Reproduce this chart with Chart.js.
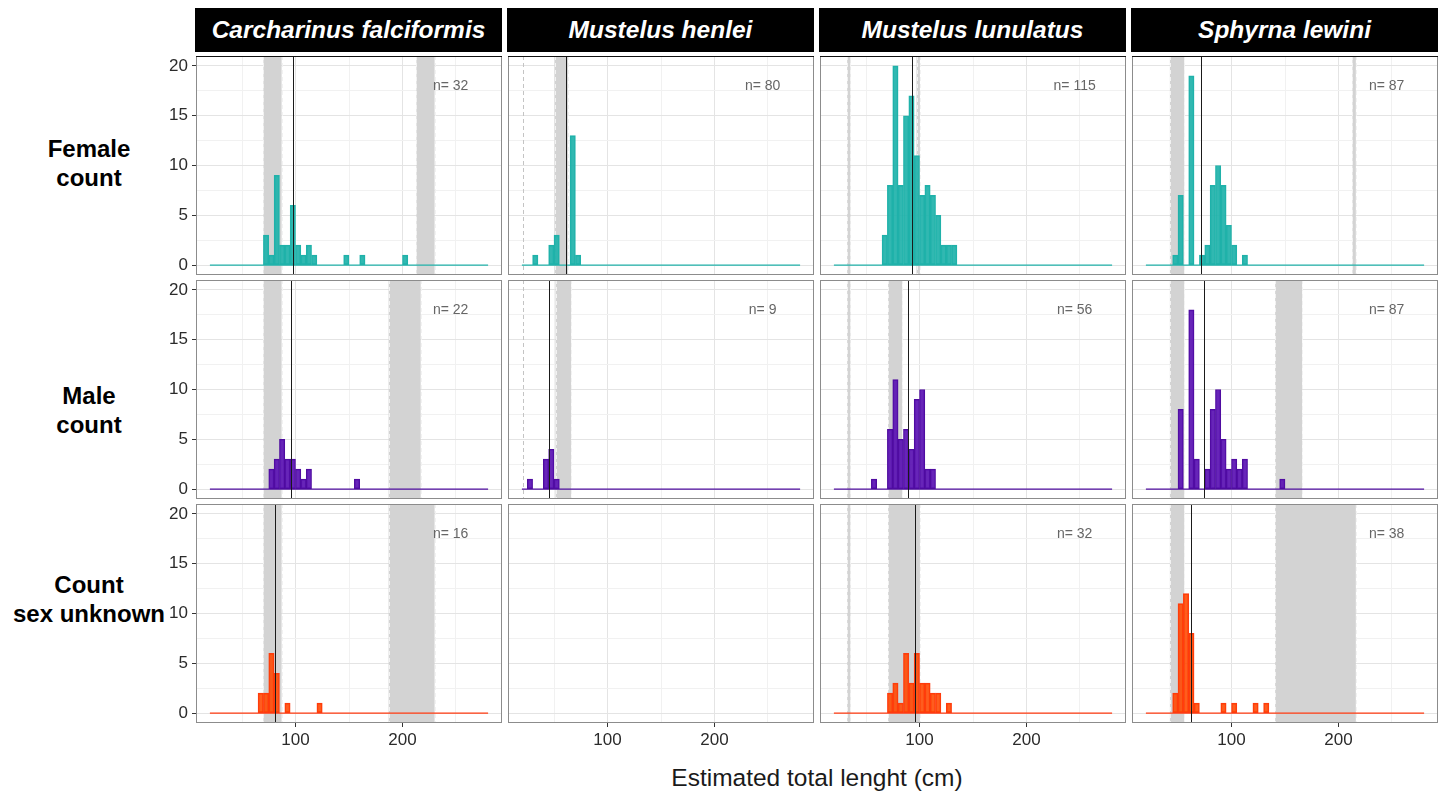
<!DOCTYPE html>
<html><head><meta charset="utf-8">
<script src="https://cdn.jsdelivr.net/npm/chart.js@4.4.1/dist/chart.umd.min.js"></script>
<style>
html,body{margin:0;padding:0;background:#fff;}
body{width:1446px;height:795px;position:relative;overflow:hidden;font-family:'Liberation Sans',Arial,sans-serif;}
.strip{position:absolute;top:8px;height:44px;background:#000;color:#fff;font-weight:bold;font-style:italic;font-size:24.5px;display:flex;align-items:center;justify-content:center;white-space:nowrap;}
.rowlab{position:absolute;left:0;width:178px;text-align:center;font-weight:bold;font-size:24px;line-height:29px;color:#000;}
canvas{position:absolute;}
.xtitle{position:absolute;top:764px;left:196px;width:1242px;text-align:center;font-size:24.5px;line-height:28px;color:#1a1a1a;}
</style></head><body>
<script>
// ---------------- DATA ----------------
const species = ["Carcharinus falciformis", "Mustelus henlei", "Mustelus lunulatus", "Sphyrna lewini"];
const rowLabels = [["Female", "count"], ["Male", "count"], ["Count", "sex unknown"]];
const xTitle = "Estimated total lenght (cm)";
const xTickLabels = [100, 200];
const yTickLabels = [0, 5, 10, 15, 20];
const binWidth = 5;
const binRangeStart = 20;
const binRangeEnd = 280;

// lower edges of non-empty bins and their counts
const cfFemaleBins   = [70, 75, 80, 85, 90, 95, 100, 105, 110, 115, 145, 160, 200];
const cfFemaleCounts = [3, 1, 9, 2, 2, 6, 2, 1, 2, 1, 1, 1, 1];
const mhFemaleBins   = [30, 45, 50, 65, 70];
const mhFemaleCounts = [1, 2, 3, 13, 1];
const mlFemaleBins   = [65, 70, 75, 80, 85, 90, 95, 100, 105, 110, 115, 120, 125, 130];
const mlFemaleCounts = [3, 8, 20, 8, 15, 17, 11, 7, 8, 7, 5, 2, 2, 2];
const slFemaleBins   = [45, 50, 60, 70, 75, 80, 85, 90, 95, 100, 110];
const slFemaleCounts = [1, 7, 19, 1, 2, 8, 10, 8, 4, 2, 1];

const cfMaleBins   = [75, 80, 85, 90, 95, 100, 105, 110, 155];
const cfMaleCounts = [2, 3, 5, 3, 3, 2, 1, 2, 1];
const mhMaleBins   = [25, 40, 45, 50];
const mhMaleCounts = [1, 3, 4, 1];
const mlMaleBins   = [55, 70, 75, 80, 85, 90, 95, 100, 105, 110];
const mlMaleCounts = [1, 6, 11, 5, 6, 4, 9, 10, 2, 2];
const slMaleBins   = [50, 60, 65, 75, 80, 85, 90, 95, 100, 105, 110, 145];
const slMaleCounts = [8, 18, 3, 2, 8, 10, 5, 2, 3, 2, 3, 1];

const cfUnknownBins   = [65, 70, 75, 80, 90, 120];
const cfUnknownCounts = [2, 2, 6, 4, 1, 1];
const mhUnknownBins   = null;
const mhUnknownCounts = null;
const mlUnknownBins   = [70, 75, 80, 85, 90, 95, 100, 105, 110, 115, 125];
const mlUnknownCounts = [2, 3, 1, 6, 3, 6, 3, 3, 2, 2, 1];
const slUnknownBins   = [45, 50, 55, 60, 65, 90, 100, 120, 130];
const slUnknownCounts = [2, 11, 12, 8, 1, 1, 1, 1, 1];

const sampleSizes = [[32, 80, 115, 87], [22, 9, 56, 87], [16, null, 32, 38]];
// shaded ranges (cm)
const birthRanges = [[70, 87], [21, 21], [32.4, 35.5], [42.4, 55.8]];
const femaleMaturity  = [[213, 230], [50.5, 63], [97.2, 100.3], [213, 216.2]];
const maleMaturity    = [[187, 217], [51.4, 66], [70.7, 83.8], [140.8, 166]];
const unknownMaturity = [[187, 230], null, [70.7, 100.3], [140.8, 216.2]];
// vertical reference lines (cm)
const femaleLines  = [98, 61.1, 92.8, 71.3];
const maleLines    = [95.6, 44.9, 89.7, 74.1];
const unknownLines = [80.4, null, 96, 62.6];

// ---------------- LAYOUT / STYLE ----------------
const COL_LEFT = [196, 508, 820, 1132];
const ROW_TOP = [56, 280, 504];
const PANEL_W = 306, PANEL_H = 219;
const AXIS_W = 45, AXIS_H = 30;
const FILLS = ['rgba(32,178,170,0.92)', 'rgba(90,18,178,0.92)', 'rgba(255,69,0,0.88)'];
const EDGES = ['#20B2AA', '#4E0C9E', '#FF3A10'];

const BINS = [[cfFemaleBins, mhFemaleBins, mlFemaleBins, slFemaleBins],
              [cfMaleBins, mhMaleBins, mlMaleBins, slMaleBins],
              [cfUnknownBins, mhUnknownBins, mlUnknownBins, slUnknownBins]];
const COUNTS = [[cfFemaleCounts, mhFemaleCounts, mlFemaleCounts, slFemaleCounts],
                [cfMaleCounts, mhMaleCounts, mlMaleCounts, slMaleCounts],
                [cfUnknownCounts, mhUnknownCounts, mlUnknownCounts, slUnknownCounts]];
const MATURITY = [femaleMaturity, maleMaturity, unknownMaturity];
const LINES = [femaleLines, maleLines, unknownLines];

Chart.defaults.font.family = "'Liberation Sans', Arial, sans-serif";

const decorPlugin = {
  id: 'decor',
  beforeDatasetsDraw(chart, args, opts) {
    const {ctx, chartArea: a, scales: {x}} = chart;
    ctx.save();
    ctx.beginPath(); ctx.rect(a.left, a.top, a.width, a.height); ctx.clip();
    (opts.bands || []).forEach(([lo, hi]) => {
      const x1 = x.getPixelForValue(lo), x2 = x.getPixelForValue(hi);
      if (x2 - x1 > 1) {
        ctx.fillStyle = '#d3d3d3';
        ctx.fillRect(x1, a.top, x2 - x1, a.height);
        ctx.strokeStyle = '#f2f2f2';
      } else {
        ctx.strokeStyle = '#c4c4c4';
      }
      ctx.lineWidth = 1;
      ctx.setLineDash([4, 3]);
      [x1, x2].forEach(px => {
        const p = Math.round(px) + 0.5;
        ctx.beginPath(); ctx.moveTo(p, a.top); ctx.lineTo(p, a.bottom); ctx.stroke();
      });
    });
    ctx.restore();
  },
  afterDatasetsDraw(chart, args, opts) {
    const {ctx, chartArea: a, scales: {x, y}} = chart;
    ctx.save();
    if (opts.vline != null) {
      const p = Math.round(x.getPixelForValue(opts.vline)) + 0.5;
      ctx.strokeStyle = '#1a1a1a'; ctx.lineWidth = 1;
      ctx.beginPath(); ctx.moveTo(p, a.top); ctx.lineTo(p, a.bottom); ctx.stroke();
    }
    if (opts.n != null) {
      ctx.fillStyle = '#666';
      ctx.font = "14px 'Liberation Sans', Arial, sans-serif";
      ctx.textAlign = 'center'; ctx.textBaseline = 'middle';
      ctx.fillText('n= ' + opts.n, x.getPixelForValue(245), y.getPixelForValue(18));
    }
    ctx.strokeStyle = '#8c8c8c'; ctx.lineWidth = 1;
    ctx.strokeRect(a.left + 0.5, a.top + 0.5, a.width - 1, a.height - 1);
    if (opts.darkTop) {
      ctx.strokeStyle = '#111';
      ctx.beginPath(); ctx.moveTo(a.left, a.top + 0.5); ctx.lineTo(a.right, a.top + 0.5); ctx.stroke();
    }
    ctx.restore();
  }
};
Chart.register(decorPlugin);

// headers and labels (HTML text)
species.forEach((s, c) => {
  const d = document.createElement('div');
  d.className = 'strip';
  d.style.left = (COL_LEFT[c] - 1) + 'px';
  d.style.width = (PANEL_W + 1) + 'px';
  d.textContent = s;
  document.body.appendChild(d);
});
const rowLabelTops = [134, 381, 570];
rowLabels.forEach((lines, r) => {
  const d = document.createElement('div');
  d.className = 'rowlab';
  d.style.top = rowLabelTops[r] + 'px';
  d.innerHTML = lines.join('<br>');
  document.body.appendChild(d);
});
const xt = document.createElement('div');
xt.className = 'xtitle'; xt.textContent = xTitle;
document.body.appendChild(xt);

function makePanel(r, c) {
  const left = COL_LEFT[c] - (c === 0 ? AXIS_W : 0);
  const width = PANEL_W + (c === 0 ? AXIS_W : 0);
  const height = PANEL_H + (r === 2 ? AXIS_H : 0);
  const canvas = document.createElement('canvas');
  canvas.width = width; canvas.height = height;
  canvas.style.left = left + 'px'; canvas.style.top = ROW_TOP[r] + 'px';
  canvas.style.width = width + 'px'; canvas.style.height = height + 'px';
  document.body.appendChild(canvas);

  const bins = BINS[r][c], counts = COUNTS[r][c];
  const datasets = [];
  let bands = [];
  if (bins) {
    datasets.push({
      type: 'bar',
      data: bins.map((b, i) => ({x: b + binWidth / 2, y: counts[i]})),
      backgroundColor: FILLS[r], borderColor: EDGES[r], borderWidth: 1, borderSkipped: false,
      barPercentage: 1, categoryPercentage: 1, order: 2
    });
    datasets.push({
      type: 'line',
      data: [{x: binRangeStart, y: 0}, {x: binRangeEnd, y: 0}],
      borderColor: EDGES[r], borderWidth: 1.2, pointRadius: 0, order: 1
    });
    bands = [birthRanges[c]];
    if (MATURITY[r][c]) bands.push(MATURITY[r][c]);
  }
  const majorX = v => Math.abs(v % 100) < 1e-6;
  const majorY = v => Math.abs(v % 5) < 1e-6;
  new Chart(canvas, {
    type: 'bar',
    data: {datasets},
    options: {
      responsive: false, animation: false, devicePixelRatio: 1, events: [],
      layout: {padding: 0, autoPadding: false},
      plugins: {
        legend: {display: false}, tooltip: {enabled: false},
        decor: {bands, vline: bins ? LINES[r][c] : null, n: sampleSizes[r][c], darkTop: r === 0}
      },
      scales: {
        x: {
          type: 'linear', position: 'bottom', min: 7, max: 293, offset: false,
          border: {display: false},
          grid: {offset: false, drawTicks: r === 2, tickLength: 4,
                 color: ctx => majorX(ctx.tick.value) ? '#e4e4e4' : '#f1f1f1',
                 tickColor: ctx => majorX(ctx.tick.value) ? '#333' : 'rgba(0,0,0,0)'},
          ticks: {display: r === 2, stepSize: 50, includeBounds: false, autoSkip: false, maxRotation: 0,
                  padding: 3, color: '#2b2b2b', font: {size: 17},
                  callback: v => xTickLabels.includes(v) ? String(v) : ''},
          afterFit: s => { s.height = r === 2 ? AXIS_H : 0; s.paddingLeft = 0; s.paddingRight = 0; }
        },
        y: {
          type: 'linear', position: 'left', min: -1, max: 21,
          border: {display: false},
          grid: {drawTicks: c === 0, tickLength: 4,
                 color: ctx => majorY(ctx.tick.value) ? '#e4e4e4' : '#f1f1f1',
                 tickColor: ctx => majorY(ctx.tick.value) ? '#333' : 'rgba(0,0,0,0)'},
          ticks: {display: c === 0, stepSize: 2.5, includeBounds: false, autoSkip: false,
                  padding: 4, color: '#2b2b2b', font: {size: 17},
                  callback: v => yTickLabels.includes(v) ? String(v) : ''},
          afterFit: s => { s.width = c === 0 ? AXIS_W : 0; s.paddingTop = 0; s.paddingBottom = 0; }
        }
      }
    }
  });
}
for (let r = 0; r < 3; r++) for (let c = 0; c < 4; c++) makePanel(r, c);
</script>
</body></html>
